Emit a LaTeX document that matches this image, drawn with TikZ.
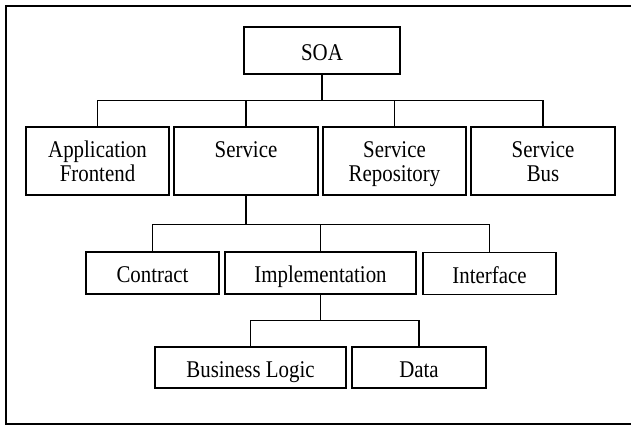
\documentclass[tikz,border=0pt]{standalone}
\usepackage{fontspec}
\setmainfont{Liberation Serif}[FakeStretch=0.87]
\begin{document}
\begin{tikzpicture}[x=1pt,y=-1pt,
  box/.style={draw=black,line width=1.2pt,minimum height=#1,inner sep=0pt,align=center,
    font=\fontsize{24}{24}\selectfont,text height=20pt,text depth=1pt},
  box/.default=42pt,
  tall/.style={box=68pt,text height=41pt,text depth=1pt},
  link/.style={draw=black,line width=1.2pt}]
\useasboundingbox (0,0) rectangle (631,426);
\fill[white] (0,0) rectangle (631,426);
\draw[line width=1.3pt] (631,6) -- (6,6) -- (6,424) -- (631,424);

\node[box=47pt,minimum width=156pt] (soa) at (322,50.5) {SOA};

\node[tall,minimum width=143pt] (af)  at (97.5,161) {Application\\Frontend};
\node[tall,minimum width=144pt] (svc) at (246,161) {Service\\\phantom{X}};
\node[tall,minimum width=143pt] (rep) at (394.5,161) {Service\\Repository};
\node[tall,minimum width=144pt] (sbus) at (543,161) {Service\\Bus};

\node[box=42pt,minimum width=133pt] (con)  at (152.5,273) {Contract};
\node[box=42pt,minimum width=191pt] (impl) at (320.5,273) {Implementation};
\node[box=42pt,minimum width=133pt] (ifc)  at (489.5,273.5) {Interface};

\node[box=41pt,minimum width=191pt] (bl)   at (250.5,367.5) {Business Logic};
\node[box=41pt,minimum width=134pt] (data) at (419,367.5) {Data};

\foreach \c in {af,svc,rep,sbus}
  \draw[link] (soa.south) -- ++(0,26) -| (\c.north);
\foreach \c in {con,impl,ifc}
  \draw[link] (svc.south) -- ++(0,29) -| (\c.north);
\foreach \c in {bl,data}
  \draw[link] (impl.south) -- ++(0,26) -| (\c.north);
\end{tikzpicture}
\end{document}
